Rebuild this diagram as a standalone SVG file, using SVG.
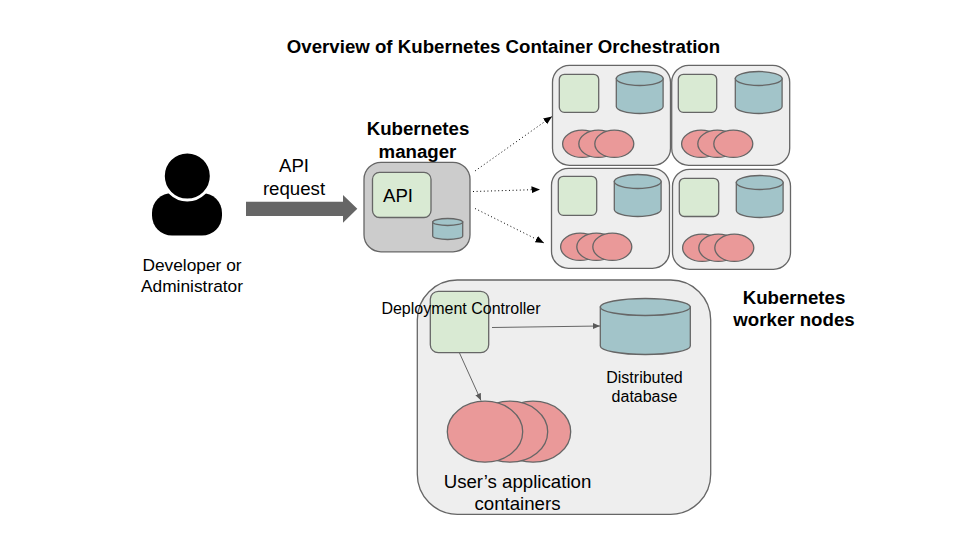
<svg xmlns="http://www.w3.org/2000/svg" width="960" height="540" viewBox="0 0 960 540">
<style>
text{font-family:"Liberation Sans",Arial,sans-serif;fill:#000;text-anchor:middle}
.b{font-weight:bold;font-size:18.67px}
.m{font-size:18.67px}
.d{font-size:17.33px}
.s{font-size:16px}
.panel{fill:#eee;stroke:#666;stroke-width:1.3}
.green{fill:#d9ead3;stroke:#666;stroke-width:1.3}
.teal{fill:#a2c4c9;stroke:#666;stroke-width:1.3}
.red{fill:#ea9999;stroke:#666;stroke-width:1.3}
.dot{fill:none;stroke:#000;stroke-width:1;stroke-dasharray:1 2.6}
.thin{fill:none;stroke:#666;stroke-width:1}
</style>
<defs>
<marker id="ah" markerUnits="userSpaceOnUse" markerWidth="9" markerHeight="8" refX="8.5" refY="3.5" orient="auto"><path d="M0 0L8.5 3.5L0 7z" fill="#000"/></marker>
<marker id="ag" markerUnits="userSpaceOnUse" markerWidth="8" markerHeight="8" refX="7" refY="3" orient="auto"><path d="M0 0L7 3L0 6z" fill="#595959"/></marker>
<g id="worker">
<path class="teal" d="M64 20.500v28a23.4 7 0 0 0 46.800 0v-28z"/>
<ellipse class="teal" cx="87.400" cy="20.500" rx="23.400" ry="7"/>
<ellipse class="red" cx="29.800" cy="85.800" rx="19.500" ry="13.600"/>
<ellipse class="red" cx="46" cy="85.800" rx="19.500" ry="13.600"/>
<ellipse class="red" cx="62" cy="85.800" rx="19.500" ry="13.600"/>
</g>
</defs>

<g id="connectors">
<path class="dot" d="M475 171L552 116.500" marker-end="url(#ah)"/>
<path class="dot" d="M473 191.500L540 189.500" marker-end="url(#ah)"/>
<path class="dot" d="M475 208.500L544 243" marker-end="url(#ah)"/>
</g>

<text class="b" x="503.500" y="53">Overview of Kubernetes Container Orchestration</text>

<g id="developer">
<rect x="152" y="193" width="70" height="42.500" rx="20" fill="#000"/>
<circle cx="187.300" cy="176" r="24" fill="#000" stroke="#fff" stroke-width="3"/>
<text class="d" x="192" y="271">Developer or</text>
<text class="d" x="192" y="292">Administrator</text>
</g>

<g id="api-request">
<path d="M246 201.700H343V195L357.300 208.800L343 222.700V216H246z" fill="#666"/>
<text class="m" x="294" y="172">API</text>
<text class="m" x="294" y="195">request</text>
</g>

<g id="manager">
<text class="b" x="418" y="135">Kubernetes</text>
<text class="b" x="417.500" y="158">manager</text>
<rect x="364" y="162.300" width="106" height="89.500" rx="17" fill="#ccc" stroke="#666" stroke-width="1.300"/>
<rect class="green" x="372.500" y="172.300" width="58.500" height="45.200" rx="7"/>
<text class="m" x="398" y="202">API</text>
<path class="teal" d="M432.700 222v14a15 3.500 0 0 0 30 0v-14z"/>
<ellipse class="teal" cx="447.700" cy="222" rx="15" ry="3.500"/>
</g>

<g id="worker-1">
<rect class="panel" x="552.500" y="65.300" width="118" height="100" rx="17"/>
<rect class="green" x="559.300" y="74.300" width="39.400" height="38" rx="5"/>
<use href="#worker" x="552.300" y="58"/>
</g>
<g id="worker-2">
<rect class="panel" x="671.700" y="65.300" width="118" height="100" rx="17"/>
<rect class="green" x="678.300" y="74.300" width="38.400" height="38" rx="5"/>
<use href="#worker" x="671.300" y="58"/>
</g>
<g id="worker-3">
<rect class="panel" x="551.500" y="168.300" width="118" height="100" rx="17"/>
<rect class="green" x="558.300" y="176.300" width="38.400" height="39" rx="5"/>
<use href="#worker" x="550.300" y="161"/>
</g>
<g id="worker-4">
<rect class="panel" x="672.500" y="169.300" width="118" height="100" rx="17"/>
<rect class="green" x="679.300" y="178.300" width="39.400" height="38.200" rx="5"/>
<use href="#worker" x="672.300" y="162"/>
</g>

<g id="worker-label">
<text class="b" x="794" y="304">Kubernetes</text>
<text class="b" x="794" y="326">worker nodes</text>
</g>

<g id="detail">
<rect class="panel" x="417.300" y="280" width="293.400" height="234.300" rx="40"/>
<rect class="green" x="430.300" y="291.300" width="58.400" height="61.400" rx="8"/>
<path class="teal" d="M600.300 307v39a45 8.500 0 0 0 90 0v-39z"/>
<ellipse class="teal" cx="645.300" cy="307" rx="45" ry="8.500"/>
<ellipse class="red" cx="533" cy="431.700" rx="37.700" ry="30.500"/>
<ellipse class="red" cx="510" cy="431.700" rx="37.700" ry="30.500"/>
<ellipse class="red" cx="485" cy="431.700" rx="37.700" ry="30.500"/>
<path class="thin" d="M492 327.500L600 326" marker-end="url(#ag)"/>
<path class="thin" d="M459.500 353L481 400.500" marker-end="url(#ag)"/>
<text class="s" x="461" y="314">Deployment Controller</text>
<text class="s" x="644.500" y="383">Distributed</text>
<text class="s" x="644.500" y="402">database</text>
<text class="m" x="517.500" y="488">User’s application</text>
<text class="m" x="517.500" y="510">containers</text>
</g>
</svg>
